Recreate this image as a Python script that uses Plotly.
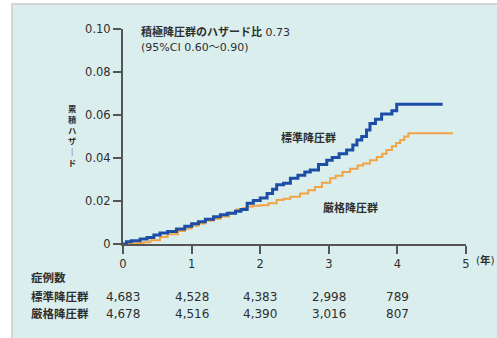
import plotly.graph_objects as go

# ---- data ----
std_t = [0, 0.05, 0.12, 0.25, 0.35, 0.45, 0.54, 0.65, 0.78, 0.9, 1.0, 1.1, 1.2, 1.32, 1.42,
         1.52, 1.64, 1.72, 1.81, 1.9, 2.0, 2.1, 2.18, 2.24, 2.34, 2.44, 2.55, 2.65, 2.73,
         2.85, 2.97, 3.05, 3.15, 3.26, 3.35, 3.41, 3.48, 3.55, 3.6, 3.68, 3.77, 3.92, 3.99, 4.66]
std_h = [0, 0.001, 0.0015, 0.0023, 0.003, 0.0042, 0.0051, 0.0058, 0.007, 0.0082, 0.0094, 0.0103,
         0.0115, 0.0127, 0.0136, 0.0143, 0.0152, 0.016, 0.019, 0.0202, 0.0214, 0.0235, 0.0255,
         0.0276, 0.0283, 0.0306, 0.032, 0.0335, 0.0344, 0.037, 0.039, 0.0402, 0.042, 0.0437,
         0.046, 0.0484, 0.05, 0.053, 0.056, 0.058, 0.0605, 0.062, 0.065, 0.065]

int_t = [0, 0.1, 0.3, 0.4, 0.54, 0.65, 0.8, 0.9, 1.0, 1.1, 1.2, 1.32, 1.42, 1.55, 1.65, 1.75,
         1.81, 1.9, 2.0, 2.12, 2.24, 2.34, 2.44, 2.58, 2.7, 2.8, 2.9, 3.02, 3.1, 3.2, 3.31,
         3.42, 3.5, 3.6, 3.7, 3.78, 3.84, 3.92, 3.98, 4.04, 4.1, 4.16, 4.81]
int_h = [0, 0.0003, 0.0008, 0.0018, 0.0032, 0.0045, 0.006, 0.0072, 0.0085, 0.0095, 0.0108,
         0.0118, 0.0128, 0.0145, 0.016, 0.0168, 0.0175, 0.0178, 0.018, 0.019, 0.0205, 0.021,
         0.022, 0.0235, 0.025, 0.0265, 0.0285, 0.0306, 0.0318, 0.0335, 0.035, 0.0365, 0.0375,
         0.039, 0.0405, 0.042, 0.0437, 0.0455, 0.047, 0.0484, 0.05, 0.0515, 0.0515]

x_ticks = [0, 1, 2, 3, 4, 5]
y_ticks = [0, 0.02, 0.04, 0.06, 0.08, 0.10]
y_tick_text = ["0", "0.02", "0.04", "0.06", "0.08", "0.10"]

risk_times = [0, 1, 2, 3, 4]
risk_std = ["4,683", "4,528", "4,383", "2,998", "789"]
risk_int = ["4,678", "4,516", "4,390", "3,016", "807"]

name_std = "標準降圧群"
name_int = "厳格降圧群"
y_title_chars = ["累", "積", "ハ", "ザ", "｜", "ド"]

FONT = "DejaVu Sans, Noto Sans CJK JP, sans-serif"
CJK = "Noto Sans CJK JP, sans-serif"
TXT = "#2e2e2e"
BLUE = "#1d4ea6"
ORANGE = "#f2a345"

fig = go.Figure()
fig.add_trace(go.Scatter(x=int_t, y=int_h, mode="lines", line=dict(color=ORANGE, width=2, shape="hv"),
                         name=name_int, hoverinfo="skip"))
fig.add_trace(go.Scatter(x=std_t, y=std_h, mode="lines", line=dict(color=BLUE, width=3, shape="hv"),
                         name=name_std, hoverinfo="skip"))

W, H = 497, 338
L, R, T, B = 123, 31, 29, 94
pw, ph = W - L - R, H - T - B

def px2paper_x(px):
    return (px - L) / pw

def py2paper_y(py):
    return (H - B - py) / ph

# background panel
fig.add_shape(type="rect", xref="paper", yref="paper",
              x0=px2paper_x(12), x1=px2paper_x(500), y0=py2paper_y(342), y1=py2paper_y(4),
              fillcolor="#dbeeee", line=dict(color="#d2d6d6", width=2), layer="below")

def cjk_font(size, weight="bold"):
    return dict(size=size, color=TXT, family=CJK, weight=weight)

ann = []
ann.append(dict(x=px2paper_x(139), y=py2paper_y(32), xref="paper", yref="paper",
                text="<b>積極降圧群のハザード比</b> 0.73",
                showarrow=False, xanchor="left", yanchor="middle", font=dict(size=11, color=TXT, family=FONT)))
ann.append(dict(x=px2paper_x(139), y=py2paper_y(48), xref="paper", yref="paper", text="(95%CI 0.60〜0.90)",
                showarrow=False, xanchor="left", yanchor="middle", font=dict(size=11, color=TXT, family=FONT)))
ann.append(dict(x=2.71, y=0.0498, xref="x", yref="y", text=name_std, showarrow=False,
                font=cjk_font(11)))
ann.append(dict(x=3.31, y=0.0172, xref="x", yref="y", text=name_int, showarrow=False,
                font=cjk_font(11)))
# y title stacked (upright characters), one text block
ann.append(dict(x=px2paper_x(67), y=py2paper_y(134.5), xref="paper", yref="paper",
                text="<br>".join(y_title_chars), showarrow=False, borderpad=0,
                yanchor="middle", font=cjk_font(8.3)))
# (年)
ann.append(dict(x=px2paper_x(475), y=py2paper_y(267), xref="paper", yref="paper", text="(<b>年</b>)",
                showarrow=False, xanchor="left", borderpad=0, font=dict(size=10.5, color=TXT, family=FONT)))
# risk table
ann.append(dict(x=px2paper_x(29), y=py2paper_y(287), xref="paper", yref="paper", text="症例数",
                showarrow=False, xanchor="left", font=cjk_font(11.5)))
ann.append(dict(x=px2paper_x(29), y=py2paper_y(306), xref="paper", yref="paper", text=name_std,
                showarrow=False, xanchor="left", font=cjk_font(11.5)))
ann.append(dict(x=px2paper_x(29), y=py2paper_y(323), xref="paper", yref="paper", text=name_int,
                showarrow=False, xanchor="left", font=cjk_font(11.5)))
for t, a, b in zip(risk_times, risk_std, risk_int):
    ann.append(dict(x=t, y=py2paper_y(306), xref="x", yref="paper", text=a, showarrow=False,
                    font=dict(size=12, color=TXT, family=FONT)))
    ann.append(dict(x=t, y=py2paper_y(323), xref="x", yref="paper", text=b, showarrow=False,
                    font=dict(size=12, color=TXT, family=FONT)))

fig.update_layout(
    width=W, height=H,
    margin=dict(l=L, r=R, t=T, b=B),
    paper_bgcolor="white", plot_bgcolor="rgba(0,0,0,0)",
    showlegend=False,
    annotations=ann,
    xaxis=dict(range=[0, 5], tickvals=x_ticks, ticks="outside", ticklen=8, tickwidth=1.5,
               tickcolor="#555", showline=True, linecolor="#555", linewidth=2, showgrid=False,
               zeroline=False, tickfont=dict(size=11.5, color=TXT, family=FONT)),
    yaxis=dict(range=[0, 0.1], tickvals=y_ticks, ticktext=y_tick_text, ticks="outside", ticklen=8,
               tickwidth=1.5, tickcolor="#555", showline=True, linecolor="#555", linewidth=2,
               showgrid=False, zeroline=False, tickfont=dict(size=11.5, color=TXT, family=FONT)),
)

fig.write_html("out.html")
